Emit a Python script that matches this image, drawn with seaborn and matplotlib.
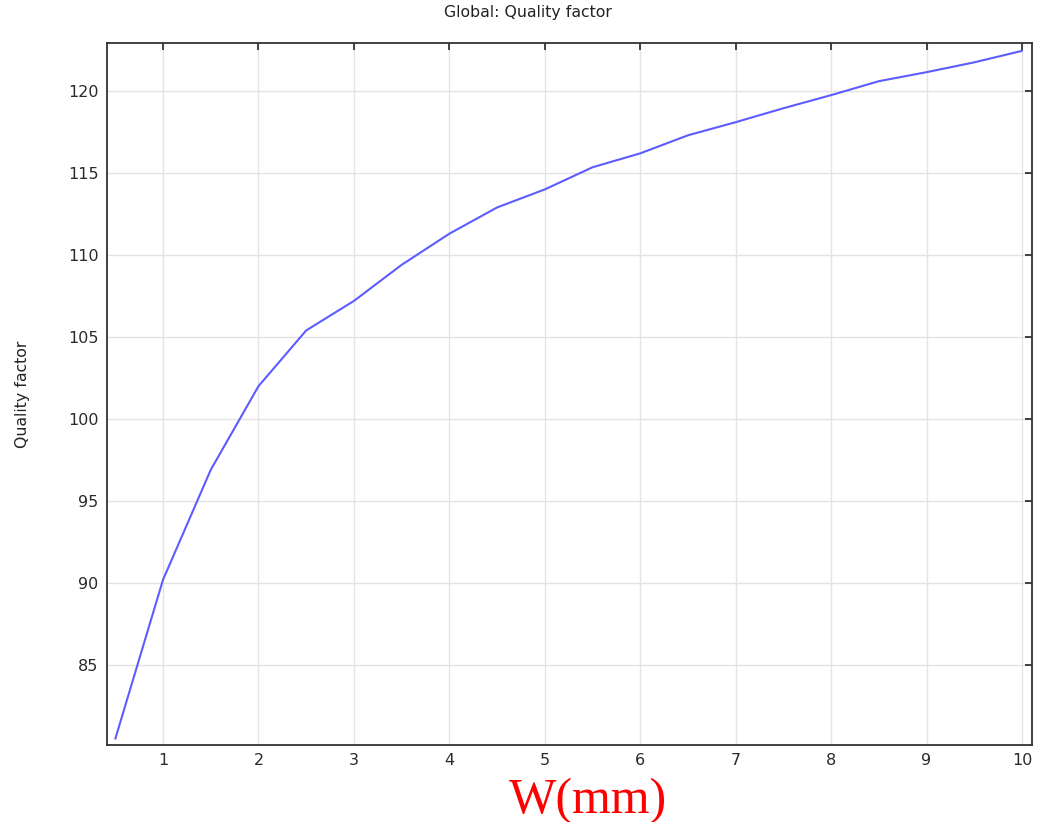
import matplotlib
matplotlib.use("Agg")
import matplotlib.pyplot as plt
import seaborn as sns
import pandas as pd

# Sweep of strip width W (mm) and resulting quality factor
width_mm = [0.5, 1, 1.5, 2, 2.5, 3, 3.5, 4, 4.5, 5, 5.5, 6, 6.5, 7, 7.5, 8, 8.5, 9, 9.5, 10]
quality = [80.5, 90.2, 96.9, 102.0, 105.4, 107.2, 109.4, 111.3, 112.9, 114.0,
           115.35, 116.2, 117.3, 118.1, 118.95, 119.75, 120.6, 121.15, 121.75, 122.45]
x_ticks = [1, 2, 3, 4, 5, 6, 7, 8, 9, 10]
y_ticks = [85, 90, 95, 100, 105, 110, 115, 120]

df = pd.DataFrame({"W": width_mm, "Q": quality})

sns.set_theme(style="white")
plt.rcParams["font.family"] = ["DejaVu Sans"]

fig = plt.figure(figsize=(10.42, 8.22), dpi=100)
ax = fig.add_axes([0.1027, 0.0937, 0.8877, 0.8540])

sns.lineplot(data=df, x="W", y="Q", ax=ax, color="#5c5cff", linewidth=1.5)

ax.set_xlim(0.413, 10.105)
ax.set_ylim(80.12, 122.93)
ax.set_xticks(x_ticks)
ax.set_yticks(y_ticks)
ax.set_xticklabels([str(v) for v in x_ticks])
ax.set_yticklabels([str(v) for v in y_ticks])

ax.grid(True, color="#e3e3e3", linewidth=1.0)
ax.set_axisbelow(True)
for s in ax.spines.values():
    s.set_visible(True)
    s.set_color("#333333")
    s.set_linewidth(1.3)

ax.tick_params(axis="both", which="major", direction="in", length=5, width=1.3,
               color="#333333", top=True, right=True, labelsize=11.5,
               labelcolor="#2a2a2a", pad=6)

fig.text(528 / 1042, 1 - 13 / 822, "Global: Quality factor", fontsize=11.3,
         color="#222222", ha="center", va="center")
ax.set_ylabel("Quality factor", fontsize=11.3, color="#222222")
ax.yaxis.set_label_coords(-0.083, 0.5)
ax.set_xlabel("W(mm)", fontsize=36, color="#ff0000", family="Liberation Serif")
ax.xaxis.set_label_coords(0.52, -0.046)

fig.savefig("out.png", dpi=100, facecolor="white")
